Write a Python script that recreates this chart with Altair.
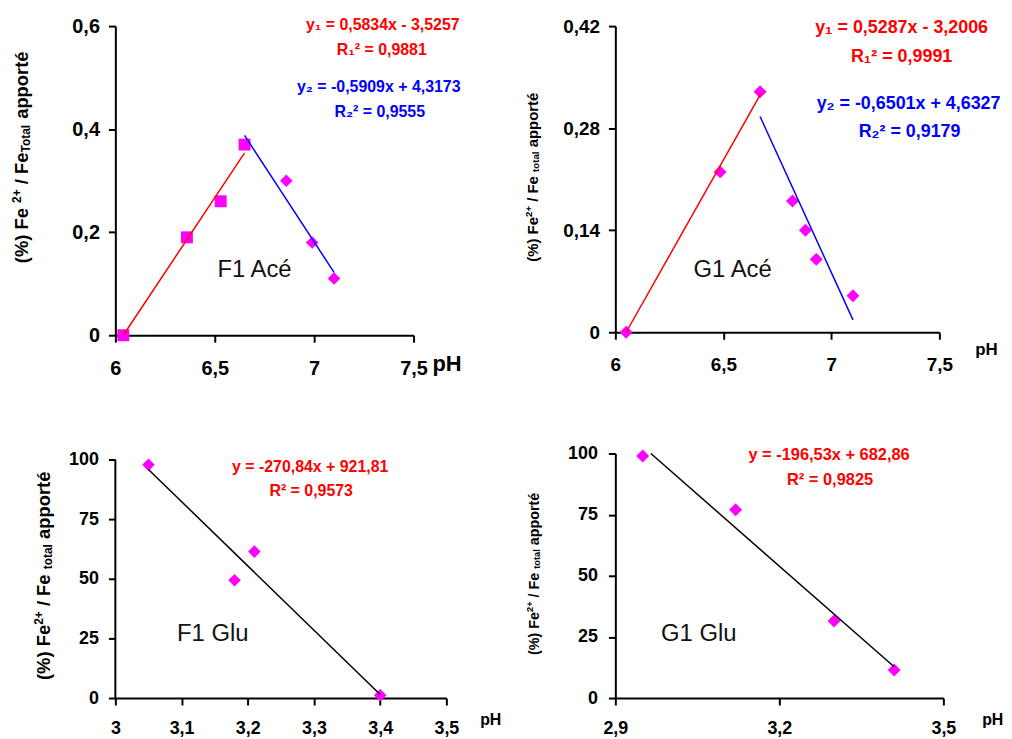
import altair as alt
import pandas as pd

FONT = "Liberation Sans"
MAG = "#FF00FF"

# ---------------- data ----------------
# F1 Acé
f1a_sq_ph = [6.04, 6.36, 6.53, 6.65]
f1a_sq_v = [0.0, 0.19, 0.26, 0.37]
f1a_di_ph = [6.86, 6.99, 7.10]
f1a_di_v = [0.30, 0.18, 0.11]
f1a_red_ph = [6.04, 6.65]
f1a_red_v = [0.0, 0.354]
f1a_blue_ph = [6.65, 7.10]
f1a_blue_v = [0.388, 0.122]
f1a_xticks = [6, 6.5, 7, 7.5]
f1a_yticks = [0, 0.2, 0.4, 0.6]

# G1 Acé
g1a_ph = [6.05, 6.485, 6.67, 6.82, 6.88, 6.93, 7.10]
g1a_v = [0.0, 0.22, 0.33, 0.18, 0.14, 0.10, 0.05]
g1a_red_ph = [6.05, 6.675]
g1a_red_v = [0.0, 0.328]
g1a_blue_ph = [6.67, 7.10]
g1a_blue_v = [0.296, 0.017]
g1a_xticks = [6, 6.5, 7, 7.5]
g1a_yticks = [0, 0.14, 0.28, 0.42]

# F1 Glu
f1g_ph = [3.05, 3.18, 3.21, 3.40]
f1g_v = [98.0, 49.5, 61.5, 1.2]
f1g_line_ph = [3.05, 3.40]
f1g_line_v = [96.0, 1.5]
f1g_xticks = [3, 3.1, 3.2, 3.3, 3.4, 3.5]
f1g_yticks = [0, 25, 50, 75, 100]

# G1 Glu
g1g_ph = [2.95, 3.12, 3.30, 3.41]
g1g_v = [99.0, 77.0, 31.5, 11.5]
g1g_line_ph = [2.965, 3.41]
g1g_line_v = [100.0, 12.8]
g1g_xticks = [2.9, 3.2, 3.5]
g1g_yticks = [0, 25, 50, 75, 100]

# texts
f1a_eq = ["y\u2081 = 0,5834x - 3,5257", "R\u2081\u00b2 = 0,9881", "y\u2082 = -0,5909x + 4,3173", "R\u2082\u00b2 = 0,9555"]
g1a_eq = ["y\u2081 = 0,5287x - 3,2006", "R\u2081\u00b2 = 0,9991", "y\u2082 = -0,6501x + 4,6327", "R\u2082\u00b2 = 0,9179"]
f1g_eq = ["y = -270,84x + 921,81", "R\u00b2 = 0,9573"]
g1g_eq = ["y = -196,53x + 682,86", "R\u00b2 = 0,9825"]
names = ["F1 Acé", "G1 Acé", "F1 Glu", "G1 Glu"]

# ---------------- helpers ----------------
W = {' ': .278, '(': .333, '%': .889, ')': .333, 'F': .611, 'e': .556, '2': .556,
     '+': .584, '/': .278, 'T': .611, 'o': .611, 't': .333, 'a': .556, 'l': .278,
     'p': .611, 'r': .389, 'é': .556}


def tw(s, fs):
    return sum(W.get(c, .556) for c in s) * fs


def axis(values, fs, pad, domain=True):
    return alt.Axis(values=values, title=None, grid=False,
                    labelExpr="replace(format(datum.value, '~g'), '.', ',')",
                    labelFont=FONT, labelFontSize=fs, labelFontWeight="bold",
                    labelColor="black", labelPadding=pad, labelFlush=False,
                    labelOverlap=False, domain=domain, domainColor="black",
                    domainWidth=2, tickColor="black", tickWidth=2, tickSize=7)


def txt(s, x, y, size, color="black", weight="bold", align="center",
        baseline="alphabetic", angle=0):
    kw = dict(font=FONT, fontSize=size, fontWeight=weight, color=color,
              align=align, baseline=baseline)
    if angle:
        kw["angle"] = angle
    return alt.Chart(pd.DataFrame({"t": [s]})).mark_text(**kw).encode(
        x=alt.value(x), y=alt.value(y), text="t:N")


def ytitle(pieces, bx, cy, fs):
    small = fs * 0.65
    total = sum(tw(s, fs if k == "m" else small) for s, k in pieces)
    y = cy + total / 2
    out = []
    for s, k in pieces:
        size = fs if k == "m" else small
        lead = len(s) - len(s.lstrip())
        y -= tw(" " * lead, size)
        core = s.strip()
        if k == "m":
            x = bx
        elif k == "sup":
            x = bx - 0.38 * fs
        else:
            x = bx + 0.1 * fs
        out.append(txt(core, x, y, size, align="left", angle=270))
        y -= tw(s.lstrip(), size)
    return out


def encs(xdom, ydom, xt, yt, fs, xpad, ypad, ydomain=True):
    xe = alt.X("ph:Q", scale=alt.Scale(domain=xdom, nice=False, zero=False),
               axis=axis(xt, fs, xpad))
    ye = alt.Y("v:Q", scale=alt.Scale(domain=ydom, nice=False, zero=False),
               axis=axis(yt, fs, ypad, ydomain))
    return xe, ye


def pts(ph, v, shape, size, xe, ye):
    return alt.Chart(pd.DataFrame({"ph": ph, "v": v})).mark_point(
        shape=shape, filled=True, size=size, color=MAG, opacity=1).encode(x=xe, y=ye)


def line(ph, v, color, xe, ye):
    return alt.Chart(pd.DataFrame({"ph": ph, "v": v})).mark_line(
        color=color, strokeWidth=1.5).encode(x=xe, y=ye)


# ---------------- panel 1 : F1 Acé ----------------
W1, H1 = 300, 311
xe, ye = encs([6, 7.5], [0, 0.6], f1a_xticks, f1a_yticks, 20, 17, 9)
anchor = alt.Chart(pd.DataFrame({"a": [0]})).mark_rect(opacity=0).encode(
    x=alt.value(-108), x2=alt.value(-104), y=alt.value(-16), y2=alt.value(-12))
p1 = alt.layer(
    anchor,
    pts(f1a_sq_ph, f1a_sq_v, "square", 144, xe, ye),
    pts(f1a_di_ph, f1a_di_v, "diamond", 160, xe, ye),
    line(f1a_red_ph, f1a_red_v, "#FF0000", xe, ye),
    line(f1a_blue_ph, f1a_blue_v, "#0000FF", xe, ye),
    txt(f1a_eq[0], 269, 4, 16, color="#FF0000"),
    txt(f1a_eq[1], 268, 29, 16, color="#FF0000"),
    txt(f1a_eq[2], 265, 66, 16, color="#0000FF"),
    txt(f1a_eq[3], 266, 91, 16, color="#0000FF"),
    txt(names[0], 140, 252, 24, weight="normal", color="#111111"),
    txt("pH", 319, H1 + 36, 22, align="left"),
    *ytitle([("(%) Fe ", "m"), ("2+", "sup"), (" / Fe", "m"), ("Total", "sub"),
             (" apporté", "m")], -88, 132, 18.5),
).properties(width=W1, height=H1)

# ---------------- panel 2 : G1 Acé ----------------
W2, H2 = 326, 308
xe, ye = encs([6, 7.5], [0, 0.42], g1a_xticks, g1a_yticks, 19, 16, 9)
p2 = alt.layer(
    pts(g1a_ph, g1a_v, "diamond", 170, xe, ye),
    line(g1a_red_ph, g1a_red_v, "#FF0000", xe, ye),
    line(g1a_blue_ph, g1a_blue_v, "#0000FF", xe, ye),
    txt(g1a_eq[0], 288, 7, 18, color="#FF0000"),
    txt(g1a_eq[1], 288, 36, 18, color="#FF0000"),
    txt(g1a_eq[2], 295, 83, 18, color="#0000FF"),
    txt(g1a_eq[3], 296, 112, 18, color="#0000FF"),
    txt(names[1], 118, 252, 24, weight="normal", color="#111111"),
    txt("pH", 362, H2 + 23, 17, align="left"),
    *ytitle([("(%) Fe", "m"), ("2+", "sup"), (" / Fe ", "m"), ("total", "sub"),
             (" apporté", "m")], -78, 152, 15),
).properties(width=W2, height=H2)

# ---------------- panel 3 : F1 Glu ----------------
W3, H3 = 333, 246
xe, ye = encs([3, 3.5], [0, 102.7], f1g_xticks, f1g_yticks, 18, 15, 10, ydomain=False)
yaxis_line = alt.Chart(pd.DataFrame({"v": [0.0], "v2": [100.0]})).mark_rule(
    color="black", strokeWidth=2).encode(x=alt.value(0), y=ye, y2="v2:Q")
p3 = alt.layer(
    yaxis_line,
    pts(f1g_ph, f1g_v, "diamond", 160, xe, ye),
    line(f1g_line_ph, f1g_line_v, "#000000", xe, ye),
    txt(f1g_eq[0], 196, 19, 16, color="#FF0000"),
    txt(f1g_eq[1], 197, 43, 16, color="#FF0000"),
    txt(names[2], 98, 189, 24, weight="normal", color="#111111"),
    txt("pH", 367, H3 + 27, 16, align="left"),
    *ytitle([("(%) Fe", "m"), ("2+", "sup"), (" / Fe ", "m"), ("total", "sub"),
             (" apporté", "m")], -66, 123, 18.5),
).properties(width=W3, height=H3)

# ---------------- panel 4 : G1 Glu ----------------
W4, H4 = 330, 246
xe, ye = encs([2.9, 3.5], [0, 100], g1g_xticks, g1g_yticks, 18, 15, 11)
p4 = alt.layer(
    pts(g1g_ph, g1g_v, "diamond", 170, xe, ye),
    line(g1g_line_ph, g1g_line_v, "#000000", xe, ye),
    txt(g1g_eq[0], 215, 7, 16.5, color="#FF0000"),
    txt(g1g_eq[1], 216, 32, 16.5, color="#FF0000"),
    txt(names[3], 84, 189, 24, weight="normal", color="#111111"),
    txt("pH", 369, H4 + 27, 16, align="left"),
    *ytitle([("(%) Fe", "m"), ("2+", "sup"), (" / Fe ", "m"), ("total", "sub"),
             (" apporté", "m")], -77, 121, 14.4),
).properties(width=W4, height=H4)

chart = alt.concat(
    p1, p2, p3, p4, columns=2, spacing={"row": 119, "column": 170}, bounds="flush"
).properties(padding=0).configure_view(strokeWidth=0)

chart.save("out.html", embed_options={"renderer": "svg", "actions": False})
